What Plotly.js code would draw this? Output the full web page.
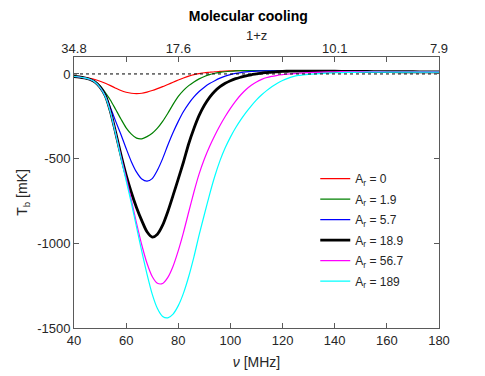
<!DOCTYPE html>
<html>
<head>
<meta charset="utf-8">
<script src="https://cdn.plot.ly/plotly-3.0.1.min.js"></script>
<style>html,body{margin:0;padding:0;background:#fff;}#chart{width:485px;height:376px;}</style>
</head>
<body>
<div id="chart"></div>
<script>
// Frequency grid (MHz)
const nu = [40,42,44,46,48,50,52,54,56,58,60,62,64,66,68,70,72,74,76,78,80,82,84,86,88,90,92,94,96,98,100,102,104,106,108,110,112,114,116,118,120,122,124,126,128,130,135,140,145,150,155,160,165,170,175,180];

// Brightness temperature T_b [mK] for each A_r
const tbAr0 = [-15,-17,-21,-26,-33,-43,-55,-69,-84,-98,-108,-114,-116,-114,-107,-98,-87,-75,-62,-49,-36,-24,-13,-4,2,7,10,13,15,17,18,19,19,19,19,19,19,18,18,18,18,17,17,17,16,16,15,15,14,14,13,13,13,12,12,12];
const tbAr1p9 = [-15,-18,-23,-31,-45,-70,-110,-155,-210,-266,-318,-355,-379,-383,-370,-350,-320,-280,-232,-180,-133,-97,-69,-47,-29,-15,-4,4,9,13,16,18,19,19,19,19,19,19,19,18,18,18,18,17,17,17,16,15,15,14,14,13,13,12,12,12];
const tbAr5p7 = [-15,-18,-23,-31,-46,-74,-120,-200,-280,-358,-440,-518,-580,-620,-633,-618,-568,-500,-420,-346,-280,-222,-175,-136,-104,-78,-57,-40,-25,-13,-4,3,8,12,15,17,18,18,18,18,18,18,18,18,17,17,16,16,15,14,14,13,13,13,12,12];
const tbAr18p9 = [-15,-18,-23,-31,-47,-78,-128,-222,-348,-478,-598,-700,-790,-866,-932,-963,-946,-893,-812,-717,-620,-520,-412,-322,-245,-185,-138,-102,-75,-55,-40,-28,-19,-11,-5,0,5,8,11,13,15,16,17,17,17,17,17,16,15,15,14,14,13,13,12,12];
const tbAr56p7 = [-15,-18,-23,-31,-47,-79,-130,-224,-352,-487,-612,-745,-882,-1010,-1118,-1196,-1236,-1237,-1201,-1135,-1043,-935,-815,-697,-590,-502,-428,-363,-304,-251,-203,-160,-123,-92,-67,-47,-32,-21,-14,-8,-4,-1,2,4,6,8,11,13,14,14,14,13,13,13,12,12];
const tbAr189 = [-15,-18,-23,-31,-47,-80,-133,-228,-356,-495,-630,-762,-905,-1048,-1182,-1300,-1385,-1432,-1440,-1418,-1368,-1294,-1196,-1080,-950,-830,-712,-604,-512,-436,-373,-318,-270,-227,-188,-153,-123,-97,-74,-55,-39,-26,-16,-9,-5,-2,3,7,9,10,11,11,11,11,11,11];

const seriesNames = ['A<sub>r</sub> = 0','A<sub>r</sub> = 1.9','A<sub>r</sub> = 5.7','A<sub>r</sub> = 18.9','A<sub>r</sub> = 56.7','A<sub>r</sub> = 189'];
const seriesColors = ['#ff0000','#008000','#0000ff','#000000','#ff00ff','#00ffff'];
const seriesWidths = [1.2,1.2,1.2,2.8,1.2,1.2];
const seriesData = [tbAr0,tbAr1p9,tbAr5p7,tbAr18p9,tbAr56p7,tbAr189];

// Axis ticks
const xTickVals = [40,60,80,100,120,140,160,180];
const topTickVals = [40,80,140,180];
const topTickText = ['34.8','17.6','10.1','7.9'];
const yTickVals = [-1500,-1000,-500,0];
const yTickText = ['-1500','-1000','-500','0'];
const zeroX = [40,180];
const zeroY = [0,0];

const traces = [{
  x: zeroX, y: zeroY, xaxis: 'x2', yaxis: 'y', mode: 'lines',
  line: {color: '#000000', width: 1, dash: 'dot'},
  showlegend: false, hoverinfo: 'skip'
}];
for (let i = 0; i < seriesData.length; i++) {
  traces.push({
    x: nu, y: seriesData[i], name: seriesNames[i], mode: 'lines', legendgroup: 'g' + i,
    line: {color: seriesColors[i], width: seriesWidths[i], shape: 'spline', smoothing: 0.7}
  });
}

const fontFam = 'Liberation Sans, Arial, Helvetica, sans-serif';
const axisCol = '#5a5a5a';
const textCol = '#262626';

const layout = {
  width: 485, height: 376,
  margin: {l: 74, r: 46, t: 57, b: 48, pad: 0},
  paper_bgcolor: '#ffffff', plot_bgcolor: '#ffffff',
  font: {family: fontFam, color: textCol, size: 13},
  title: {text: '<b>Molecular cooling</b>', font: {size: 14, color: '#000000', family: fontFam},
          xref: 'paper', x: 0.4775, xanchor: 'center', yref: 'container', y: 0.957, yanchor: 'middle'},
  showlegend: true,
  legend: {x: 0.661, xanchor: 'left', y: 0.605, yanchor: 'top', bgcolor: 'rgba(0,0,0,0)', borderwidth: 0,
           traceorder: 'grouped', tracegroupgap: 1.5,
           font: {size: 12, color: textCol, family: fontFam}},
  annotations: [{text: '1+z', xref: 'paper', yref: 'paper', x: 0.5, y: 1.08, xanchor: 'center', yanchor: 'middle',
                 showarrow: false, font: {size: 13, color: textCol, family: fontFam}}],
  xaxis: {range: [40,180], tickvals: xTickVals, ticks: 'inside', ticklen: 5, tickcolor: axisCol,
          showline: true, linecolor: axisCol, linewidth: 1, mirror: 'ticks', showgrid: false, zeroline: false,
          tickfont: {size: 13, color: textCol},
          title: {text: '<i>ν</i> [MHz]', font: {size: 14, color: textCol}, standoff: 10}},
  xaxis2: {range: [40,180], overlaying: 'x', side: 'top', tickvals: topTickVals, ticktext: topTickText,
           ticks: '', showline: false, showgrid: false, zeroline: false,
           tickfont: {size: 13, color: textCol}},
  yaxis: {range: [-1500,100], tickvals: yTickVals, ticktext: yTickText, ticks: 'inside', ticklen: 5, tickcolor: axisCol,
          showline: true, linecolor: axisCol, linewidth: 1, mirror: 'ticks', showgrid: false, zeroline: false,
          tickfont: {size: 13, color: textCol},
          title: {text: 'T<sub>b</sub> [mK]', font: {size: 14, color: textCol}, standoff: 6}}
};

Plotly.newPlot('chart', traces, layout, {staticPlot: true, displayModeBar: false});
</script>
</body>
</html>
